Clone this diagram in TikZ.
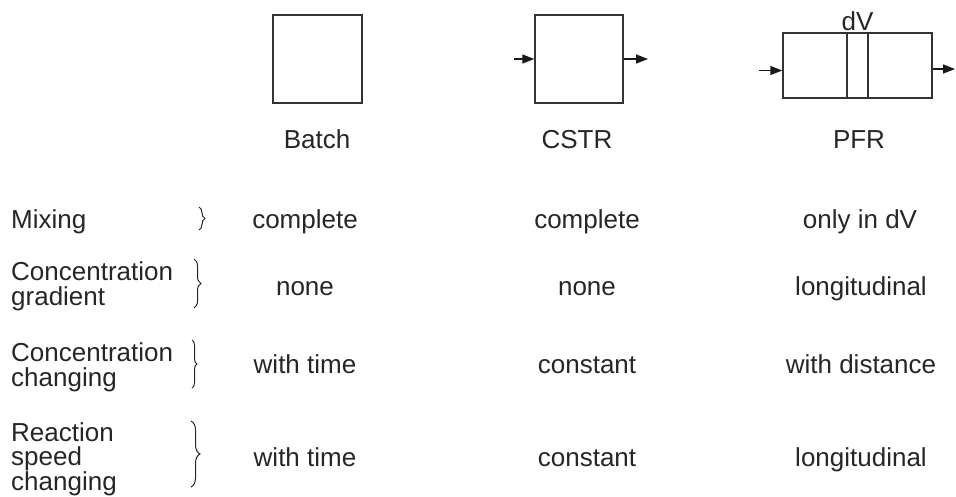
\documentclass[tikz,border=0pt]{standalone}
\usepackage{fontspec}
\setmainfont{Liberation Sans}
\usetikzlibrary{arrows.meta}
\usetikzlibrary{decorations.pathreplacing}
\tikzstyle{reactor}=[rectangle, draw=black!80, line width=1.5pt, inner sep=0pt]
\tikzstyle{lab}=[inner sep=0pt, anchor=base, text=black!85]
\tikzstyle{rowlab}=[inner sep=0pt, anchor=base west, align=left, text=black!85]
\tikzstyle{edge}=[line width=1.5pt, draw=black!90, -{Triangle[length=12pt, width=9pt]}]
\tikzset{curly/.style={decorate, decoration={brace, amplitude=#1}, line width=1pt, draw=black!85}}

\begin{document}
\begin{tikzpicture}[x=1pt, y=1pt, font=\fontsize{26}{24.5}\selectfont]
	\useasboundingbox (0,0) rectangle (956,-496);

	%The reactors
	\draw (317.5,-59) node[reactor, minimum width=89pt, minimum height=88pt] (batch) {};
	\draw (579,-59) node[reactor, minimum width=88pt, minimum height=88pt] (cstr) {};
	\draw (857.5,-65.5) node[reactor, minimum width=149pt, minimum height=65pt] (pfr) {};
	\draw (857.5,-65.5) node[reactor, minimum width=21pt, minimum height=65pt] (dv) {};
	\draw (857.5,-30) node[lab] (dv-lab) {dV};

	%Feed and outlet
	\coordinate (cstr-in) at (514,-59);
	\coordinate (cstr-out) at (648,-59);
	\coordinate (pfr-in) at (759,-70.5);
	\coordinate (pfr-out) at (955,-69);
	\draw[edge] (cstr-in) -- (cstr.west);
	\draw[edge] (cstr.east) -- (cstr-out);
	\draw[edge] (pfr-in) -- (pfr-in -| pfr.west);
	\draw[edge] (pfr-out -| pfr.east) -- (pfr-out);

	%The reactor names
	\draw (317,-148) node[lab] (batch-lab) {Batch};
	\draw (577,-148) node[lab] (cstr-lab) {CSTR};
	\draw (859,-148) node[lab] (pfr-lab) {PFR};

	%The row headings (base = last line)
	\draw (11,-228) node[rowlab] (mix) {Mixing};
	\draw (11,-305) node[rowlab] (grad) {Concentration\\gradient};
	\draw (11,-386) node[rowlab] (change) {Concentration\\changing};
	\draw (11,-490) node[rowlab] (speed) {Reaction\\speed\\changing};

	\draw[curly=6pt] (199,-207) -- (199,-230);
	\draw[curly=7pt] (194,-259) -- (194,-308);
	\draw[curly=5pt] (192,-340) -- (192,-388);
	\draw[curly=9pt] (191,-421) -- (191,-487);

	%The table
	\draw (305,-228) node[lab] (mix-b) {complete};
	\draw (587,-228) node[lab] (mix-c) {complete};
	\draw (860,-228) node[lab] (mix-p) {only in dV};
	\draw (305,-295) node[lab] (grad-b) {none};
	\draw (587,-295) node[lab] (grad-c) {none};
	\draw (861,-295) node[lab] (grad-p) {longitudinal};
	\draw (305,-373) node[lab] (change-b) {with time};
	\draw (587,-373) node[lab] (change-c) {constant};
	\draw (861,-373) node[lab] (change-p) {with distance};
	\draw (305,-466) node[lab] (speed-b) {with time};
	\draw (587,-466) node[lab] (speed-c) {constant};
	\draw (861,-466) node[lab] (speed-p) {longitudinal};
\end{tikzpicture}
\end{document}
